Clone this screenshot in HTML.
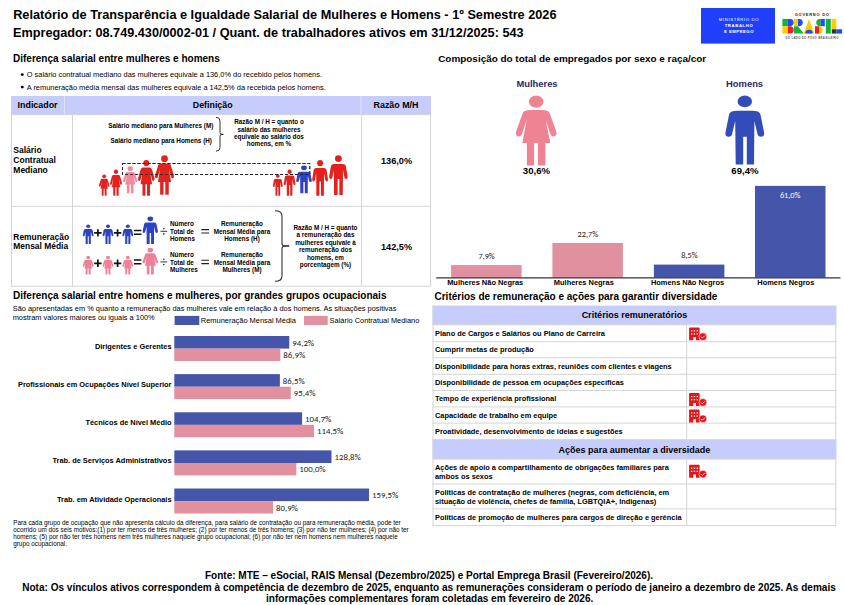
<!DOCTYPE html>
<html lang="pt-BR"><head><meta charset="utf-8"><title>Relatório de Transparência e Igualdade Salarial</title>
<style>html,body{margin:0;padding:0;background:#fff;}body{width:844px;height:605px;overflow:hidden;}svg{display:block;}text{white-space:pre;}</style>
</head><body>
<svg width="844" height="605" viewBox="0 0 844 605" font-family="'Liberation Sans', Arial, sans-serif">
<text x="13.2" y="19" font-size="12.73" font-weight="bold" font-family="'Liberation Sans', Arial, sans-serif">Relatório de Transparência e Igualdade Salarial de Mulheres e Homens - 1º Semestre 2026</text>
<text x="13" y="36.6" font-size="12.7" font-weight="bold" font-family="'Liberation Sans', Arial, sans-serif">Empregador: 08.749.430/0002-01 / Quant. de trabalhadores ativos em 31/12/2025: 543</text>
<rect x="701" y="8" width="74" height="35.6" fill="#1f3ffb"/>
<text x="739" y="21.4" font-size="4.3" text-anchor="middle" fill="#fff" font-family="'Liberation Sans', Arial, sans-serif" letter-spacing="0.6">MINISTÉRIO DO</text>
<text x="739" y="27.1" font-size="4.25" font-weight="bold" text-anchor="middle" fill="#fff" font-family="'Liberation Sans', Arial, sans-serif" letter-spacing="0.6">TRABALHO</text>
<text x="739" y="32.9" font-size="4.25" font-weight="bold" text-anchor="middle" fill="#fff" font-family="'Liberation Sans', Arial, sans-serif" letter-spacing="0.45">E EMPREGO</text>
<text x="812.2" y="15.8" font-size="4.0" font-weight="bold" text-anchor="middle" fill="#222" font-family="'Liberation Sans', Arial, sans-serif" letter-spacing="0.75">GOVERNO DO</text>
<text x="812.1" y="39.1" font-size="2.75" font-weight="bold" text-anchor="middle" fill="#555" font-family="'Liberation Sans', Arial, sans-serif" letter-spacing="0.35">DO LADO DO POVO BRASILEIRO</text>
<g>
<rect x="782.4" y="18.9" width="5.5" height="7.350000000000001" fill="#16b33c"/>
<path d="M787.9,18.9 h2.5 a3.7,3.7 0 0 1 0,7.350000000000001 h-2.5z" fill="#1f4cff"/>
<rect x="782.4" y="26.25" width="5.5" height="7.350000000000001" fill="#ffcc00"/>
<path d="M787.9,26.25 h2.5 a3.7,3.7 0 0 1 0,7.350000000000001 h-2.5z" fill="#ee1c25"/>
<rect x="794" y="18.9" width="4" height="7.350000000000001" fill="#ffcc00"/>
<path d="M798,18.9 h1.5 a3.7,3.7 0 0 1 0,7.350000000000001 h-1.5z" fill="#1f4cff"/>
<path d="M794,26.25 h4 l5.8,7.350000000000001 h-9.8z" fill="#16b33c"/>
<path d="M809,18.9 l5.3,14.700000000000003 h-10.6z" fill="#ffcc00"/>
<path d="M805.2,33.6 a3.8,3.8 0 0 1 7.6,0z" fill="#1f4cff"/>
<path d="M819.5,18.9 a3.7,3.7 0 0 0 0,7.350000000000001 h1.3 v-7.350000000000001z" fill="#16b33c"/>
<rect x="820.8" y="18.9" width="4" height="7.350000000000001" fill="#1f4cff"/>
<path d="M815,26.25 h4.5 v7.350000000000001 h-4.5z" fill="#ee1c25"/>
<path d="M819.5,26.25 a3.7,3.7 0 0 1 0,7.350000000000001z" fill="#ffcc00"/>
<rect x="825.8" y="18.9" width="5" height="14.700000000000003" fill="#16b33c"/>
<rect x="831.8" y="18.9" width="4.5" height="10.350000000000001" fill="#ffcc00"/>
<rect x="831.8" y="29.25" width="4.5" height="4.350000000000001" fill="#333"/>
<rect x="836.3" y="29.25" width="5.8" height="4.350000000000001" fill="#1f4cff"/>
</g>
<text x="13" y="62" font-size="10" font-weight="bold" font-family="'Liberation Sans', Arial, sans-serif">Diferença salarial entre mulheres e homens</text>
<circle cx="22.3" cy="74.6" r="1.45"/><circle cx="22.3" cy="87.1" r="1.45"/>
<text x="26.8" y="77.1" font-size="7.42" font-family="'Liberation Sans', Arial, sans-serif">O salário contratual mediano das mulheres equivale a 136,0% do recebido pelos homens.</text>
<text x="26.8" y="89.6" font-size="7.42" font-family="'Liberation Sans', Arial, sans-serif">A remuneração média mensal das mulheres equivale a 142,5% da recebida pelos homens.</text>
<rect x="11" y="96" width="420" height="18.7" fill="#c6cdfd"/>
<path d="M64.5,96V114.7M361,96V114.7" stroke="#e6e6f6" stroke-width="0.8" fill="none"/>
<path d="M11,114.7H431M11,206.3H431M11,286.2H431M11.5,114.7V286.2M430.5,114.7V286.2M72.5,114.7V286.2M361.6,114.7V286.2" stroke="#d4d4d4" stroke-width="1" fill="none"/>
<text x="17.6" y="108.3" font-size="8.9" font-weight="bold" font-family="'Liberation Sans', Arial, sans-serif">Indicador</text>
<text x="212.7" y="108.3" font-size="8.9" font-weight="bold" text-anchor="middle" font-family="'Liberation Sans', Arial, sans-serif">Definição</text>
<text x="396" y="108.3" font-size="8.9" font-weight="bold" text-anchor="middle" font-family="'Liberation Sans', Arial, sans-serif">Razão M/H</text>
<text x="13.3" y="153.4" font-size="8.5" font-weight="bold" font-family="'Liberation Sans', Arial, sans-serif">Salário</text>
<text x="13.3" y="163.2" font-size="8.5" font-weight="bold" font-family="'Liberation Sans', Arial, sans-serif">Contratual</text>
<text x="13.3" y="173.0" font-size="8.5" font-weight="bold" font-family="'Liberation Sans', Arial, sans-serif">Mediano</text>
<text x="396.5" y="164.1" font-size="9.2" font-weight="bold" text-anchor="middle" font-family="'Liberation Sans', Arial, sans-serif">136,0%</text>
<text x="13.3" y="239.5" font-size="8.45" font-weight="bold" font-family="'Liberation Sans', Arial, sans-serif">Remuneração</text>
<text x="13.3" y="248.9" font-size="8.45" font-weight="bold" font-family="'Liberation Sans', Arial, sans-serif">Mensal Média</text>
<text x="396.5" y="249.5" font-size="9.2" font-weight="bold" text-anchor="middle" font-family="'Liberation Sans', Arial, sans-serif">142,5%</text>
<text x="160.8" y="127.8" font-size="6.35" font-weight="bold" text-anchor="middle" font-family="'Liberation Sans', Arial, sans-serif">Salário mediano para Mulheres (M)</text>
<text x="161.2" y="142.9" font-size="6.35" font-weight="bold" text-anchor="middle" font-family="'Liberation Sans', Arial, sans-serif">Salário mediano para Homens (H)</text>
<text x="269" y="124.4" font-size="6.35" font-weight="bold" text-anchor="middle" font-family="'Liberation Sans', Arial, sans-serif">Razão M / H = quanto o</text>
<text x="269" y="131.75" font-size="6.35" font-weight="bold" text-anchor="middle" font-family="'Liberation Sans', Arial, sans-serif">salário das mulheres</text>
<text x="269" y="139.1" font-size="6.35" font-weight="bold" text-anchor="middle" font-family="'Liberation Sans', Arial, sans-serif">equivale ao salário dos</text>
<text x="269" y="146.45" font-size="6.35" font-weight="bold" text-anchor="middle" font-family="'Liberation Sans', Arial, sans-serif">homens, em %</text>
<path d="M216,117.3 Q220,117.3 220,121 L220,132.4 Q220,134.4 221.8,134.4 M221.8,134.4 Q220,134.4 220,136.4 L220,147.5 Q220,151.2 216,151.2" stroke="#333" stroke-width="1" fill="none"/><path d="M221,134.4 H223.4" stroke="#222" stroke-width="1.3"/>
<path d="M275,210.8 Q282,210.8 282,216 L282,243.2 Q282,246 284.8,246 M284.8,246 Q282,246 282,248.8 L282,276 Q282,281.3 275,281.3" stroke="#333" stroke-width="1.1" fill="none"/><path d="M284,246 H289.2" stroke="#222" stroke-width="1.5"/>
<rect x="122.5" y="163.5" width="187.3" height="11" fill="none" stroke="#222" stroke-width="0.9" stroke-dasharray="3,2"/>
<g transform="translate(104.2,174.4) scale(0.2650,0.3043)" fill="#e5211d"><ellipse cx="0" cy="6.1" rx="7.2" ry="6.1"/><path d="M-5,14.6 L5,14.6 C10.5,14.6 12.6,15.6 13.8,19 L19.8,36 Q21,40.3 17.6,40.9 Q14.8,41.3 14,38.6 L9.4,24.5 L13.9,47.5 L-13.7,47.5 L-9.4,24.5 L-14,38.6 Q-14.8,41.3 -17.6,40.9 Q-21,40.3 -19.8,36 L-13.8,19 C-12.6,15.6 -10.5,14.6 -5,14.6Z"/><rect x="-9.2" y="46" width="7.1" height="24"/><rect x="1.7" y="46" width="7.3" height="24"/></g>
<g transform="translate(116,169.4) scale(0.3000,0.3757)" fill="#e5211d"><ellipse cx="0" cy="6.1" rx="7.2" ry="6.1"/><path d="M-5,14.6 L5,14.6 C10.5,14.6 12.6,15.6 13.8,19 L19.8,36 Q21,40.3 17.6,40.9 Q14.8,41.3 14,38.6 L9.4,24.5 L13.9,47.5 L-13.7,47.5 L-9.4,24.5 L-14,38.6 Q-14.8,41.3 -17.6,40.9 Q-21,40.3 -19.8,36 L-13.8,19 C-12.6,15.6 -10.5,14.6 -5,14.6Z"/><rect x="-9.2" y="46" width="7.1" height="24"/><rect x="1.7" y="46" width="7.3" height="24"/></g>
<g transform="translate(130.2,166.3) scale(0.3600,0.3857)" fill="#ef8a9f"><ellipse cx="0" cy="6.1" rx="7.2" ry="6.1"/><path d="M-5,14.6 L5,14.6 C10.5,14.6 12.6,15.6 13.8,19 L19.8,36 Q21,40.3 17.6,40.9 Q14.8,41.3 14,38.6 L9.4,24.5 L13.9,47.5 L-13.7,47.5 L-9.4,24.5 L-14,38.6 Q-14.8,41.3 -17.6,40.9 Q-21,40.3 -19.8,36 L-13.8,19 C-12.6,15.6 -10.5,14.6 -5,14.6Z"/><rect x="-9.2" y="46" width="7.1" height="24"/><rect x="1.7" y="46" width="7.3" height="24"/></g>
<g transform="translate(146.3,160) scale(0.4150,0.5100)" fill="#e5211d"><ellipse cx="0" cy="6.1" rx="7.2" ry="6.1"/><path d="M-5,14.6 L5,14.6 C10.5,14.6 12.6,15.6 13.8,19 L19.8,36 Q21,40.3 17.6,40.9 Q14.8,41.3 14,38.6 L9.4,24.5 L13.9,47.5 L-13.7,47.5 L-9.4,24.5 L-14,38.6 Q-14.8,41.3 -17.6,40.9 Q-21,40.3 -19.8,36 L-13.8,19 C-12.6,15.6 -10.5,14.6 -5,14.6Z"/><rect x="-9.2" y="46" width="7.1" height="24"/><rect x="1.7" y="46" width="7.3" height="24"/></g>
<g transform="translate(164.5,155.2) scale(0.4750,0.5643)" fill="#e5211d"><ellipse cx="0" cy="6.1" rx="7.2" ry="6.1"/><path d="M-5,14.6 L5,14.6 C10.5,14.6 12.6,15.6 13.8,19 L19.8,36 Q21,40.3 17.6,40.9 Q14.8,41.3 14,38.6 L9.4,24.5 L13.9,47.5 L-13.7,47.5 L-9.4,24.5 L-14,38.6 Q-14.8,41.3 -17.6,40.9 Q-21,40.3 -19.8,36 L-13.8,19 C-12.6,15.6 -10.5,14.6 -5,14.6Z"/><rect x="-9.2" y="46" width="7.1" height="24"/><rect x="1.7" y="46" width="7.3" height="24"/></g>
<g transform="translate(277.8,174.1) scale(0.2526,0.3126)" fill="#e5211d"><ellipse cx="0" cy="5.9" rx="7.2" ry="5.9"/><path d="M-6,15.3 L6,15.3 C12.5,15.3 15,16 15.9,20 L19.3,37 Q19.8,41.3 16.2,41.3 Q13.2,41.3 12.7,38.6 L9.6,25.5 L9.2,69.1 L2,69.1 L2,41.3 L-1.6,41.3 L-1.6,69.1 L-9.1,69.1 L-9.6,25.5 L-12.7,38.6 Q-13.2,41.3 -16.2,41.3 Q-19.8,41.3 -19.3,37 L-15.9,20 C-15,16 -12.5,15.3 -6,15.3Z"/></g>
<g transform="translate(289.6,169.6) scale(0.3010,0.3777)" fill="#e5211d"><ellipse cx="0" cy="5.9" rx="7.2" ry="5.9"/><path d="M-6,15.3 L6,15.3 C12.5,15.3 15,16 15.9,20 L19.3,37 Q19.8,41.3 16.2,41.3 Q13.2,41.3 12.7,38.6 L9.6,25.5 L9.2,69.1 L2,69.1 L2,41.3 L-1.6,41.3 L-1.6,69.1 L-9.1,69.1 L-9.6,25.5 L-12.7,38.6 Q-13.2,41.3 -16.2,41.3 Q-19.8,41.3 -19.3,37 L-15.9,20 C-15,16 -12.5,15.3 -6,15.3Z"/></g>
<g transform="translate(304,165.5) scale(0.4031,0.4023)" fill="#2c40c8"><ellipse cx="0" cy="5.9" rx="7.2" ry="5.9"/><path d="M-6,15.3 L6,15.3 C12.5,15.3 15,16 15.9,20 L19.3,37 Q19.8,41.3 16.2,41.3 Q13.2,41.3 12.7,38.6 L9.6,25.5 L9.2,69.1 L2,69.1 L2,41.3 L-1.6,41.3 L-1.6,69.1 L-9.1,69.1 L-9.6,25.5 L-12.7,38.6 Q-13.2,41.3 -16.2,41.3 Q-19.8,41.3 -19.3,37 L-15.9,20 C-15,16 -12.5,15.3 -6,15.3Z"/></g>
<g transform="translate(320.1,160.1) scale(0.4082,0.5152)" fill="#e5211d"><ellipse cx="0" cy="5.9" rx="7.2" ry="5.9"/><path d="M-6,15.3 L6,15.3 C12.5,15.3 15,16 15.9,20 L19.3,37 Q19.8,41.3 16.2,41.3 Q13.2,41.3 12.7,38.6 L9.6,25.5 L9.2,69.1 L2,69.1 L2,41.3 L-1.6,41.3 L-1.6,69.1 L-9.1,69.1 L-9.6,25.5 L-12.7,38.6 Q-13.2,41.3 -16.2,41.3 Q-19.8,41.3 -19.3,37 L-15.9,20 C-15,16 -12.5,15.3 -6,15.3Z"/></g>
<g transform="translate(338.4,155.2) scale(0.4770,0.5760)" fill="#e5211d"><ellipse cx="0" cy="5.9" rx="7.2" ry="5.9"/><path d="M-6,15.3 L6,15.3 C12.5,15.3 15,16 15.9,20 L19.3,37 Q19.8,41.3 16.2,41.3 Q13.2,41.3 12.7,38.6 L9.6,25.5 L9.2,69.1 L2,69.1 L2,41.3 L-1.6,41.3 L-1.6,69.1 L-9.1,69.1 L-9.6,25.5 L-12.7,38.6 Q-13.2,41.3 -16.2,41.3 Q-19.8,41.3 -19.3,37 L-15.9,20 C-15,16 -12.5,15.3 -6,15.3Z"/></g>
<rect x="122.5" y="163.5" width="187.3" height="11" fill="none" stroke="#222" stroke-width="0.9" stroke-dasharray="3,2"/>
<g transform="translate(88.2,224.6) scale(0.2781,0.2822)" fill="#2c40c8"><ellipse cx="0" cy="5.9" rx="7.2" ry="5.9"/><path d="M-6,15.3 L6,15.3 C12.5,15.3 15,16 15.9,20 L19.3,37 Q19.8,41.3 16.2,41.3 Q13.2,41.3 12.7,38.6 L9.6,25.5 L9.2,69.1 L2,69.1 L2,41.3 L-1.6,41.3 L-1.6,69.1 L-9.1,69.1 L-9.6,25.5 L-12.7,38.6 Q-13.2,41.3 -16.2,41.3 Q-19.8,41.3 -19.3,37 L-15.9,20 C-15,16 -12.5,15.3 -6,15.3Z"/></g>
<g transform="translate(88.2,255.8) scale(0.2725,0.2657)" fill="#ef8097"><ellipse cx="0" cy="6.1" rx="7.2" ry="6.1"/><path d="M-5,14.6 L5,14.6 C10.5,14.6 12.6,15.6 13.8,19 L19.8,36 Q21,40.3 17.6,40.9 Q14.8,41.3 14,38.6 L9.4,24.5 L13.9,47.5 L-13.7,47.5 L-9.4,24.5 L-14,38.6 Q-14.8,41.3 -17.6,40.9 Q-21,40.3 -19.8,36 L-13.8,19 C-12.6,15.6 -10.5,14.6 -5,14.6Z"/><rect x="-9.2" y="46" width="7.1" height="24"/><rect x="1.7" y="46" width="7.3" height="24"/></g>
<g transform="translate(108,224.6) scale(0.2781,0.2822)" fill="#2c40c8"><ellipse cx="0" cy="5.9" rx="7.2" ry="5.9"/><path d="M-6,15.3 L6,15.3 C12.5,15.3 15,16 15.9,20 L19.3,37 Q19.8,41.3 16.2,41.3 Q13.2,41.3 12.7,38.6 L9.6,25.5 L9.2,69.1 L2,69.1 L2,41.3 L-1.6,41.3 L-1.6,69.1 L-9.1,69.1 L-9.6,25.5 L-12.7,38.6 Q-13.2,41.3 -16.2,41.3 Q-19.8,41.3 -19.3,37 L-15.9,20 C-15,16 -12.5,15.3 -6,15.3Z"/></g>
<g transform="translate(108,255.8) scale(0.2725,0.2657)" fill="#ef8097"><ellipse cx="0" cy="6.1" rx="7.2" ry="6.1"/><path d="M-5,14.6 L5,14.6 C10.5,14.6 12.6,15.6 13.8,19 L19.8,36 Q21,40.3 17.6,40.9 Q14.8,41.3 14,38.6 L9.4,24.5 L13.9,47.5 L-13.7,47.5 L-9.4,24.5 L-14,38.6 Q-14.8,41.3 -17.6,40.9 Q-21,40.3 -19.8,36 L-13.8,19 C-12.6,15.6 -10.5,14.6 -5,14.6Z"/><rect x="-9.2" y="46" width="7.1" height="24"/><rect x="1.7" y="46" width="7.3" height="24"/></g>
<g transform="translate(127.8,224.6) scale(0.2781,0.2822)" fill="#2c40c8"><ellipse cx="0" cy="5.9" rx="7.2" ry="5.9"/><path d="M-6,15.3 L6,15.3 C12.5,15.3 15,16 15.9,20 L19.3,37 Q19.8,41.3 16.2,41.3 Q13.2,41.3 12.7,38.6 L9.6,25.5 L9.2,69.1 L2,69.1 L2,41.3 L-1.6,41.3 L-1.6,69.1 L-9.1,69.1 L-9.6,25.5 L-12.7,38.6 Q-13.2,41.3 -16.2,41.3 Q-19.8,41.3 -19.3,37 L-15.9,20 C-15,16 -12.5,15.3 -6,15.3Z"/></g>
<g transform="translate(127.8,255.8) scale(0.2725,0.2657)" fill="#ef8097"><ellipse cx="0" cy="6.1" rx="7.2" ry="6.1"/><path d="M-5,14.6 L5,14.6 C10.5,14.6 12.6,15.6 13.8,19 L19.8,36 Q21,40.3 17.6,40.9 Q14.8,41.3 14,38.6 L9.4,24.5 L13.9,47.5 L-13.7,47.5 L-9.4,24.5 L-14,38.6 Q-14.8,41.3 -17.6,40.9 Q-21,40.3 -19.8,36 L-13.8,19 C-12.6,15.6 -10.5,14.6 -5,14.6Z"/><rect x="-9.2" y="46" width="7.1" height="24"/><rect x="1.7" y="46" width="7.3" height="24"/></g>
<g transform="translate(150.3,216.4) scale(0.3954,0.4009)" fill="#2c40c8"><ellipse cx="0" cy="5.9" rx="7.2" ry="5.9"/><path d="M-6,15.3 L6,15.3 C12.5,15.3 15,16 15.9,20 L19.3,37 Q19.8,41.3 16.2,41.3 Q13.2,41.3 12.7,38.6 L9.6,25.5 L9.2,69.1 L2,69.1 L2,41.3 L-1.6,41.3 L-1.6,69.1 L-9.1,69.1 L-9.6,25.5 L-12.7,38.6 Q-13.2,41.3 -16.2,41.3 Q-19.8,41.3 -19.3,37 L-15.9,20 C-15,16 -12.5,15.3 -6,15.3Z"/></g>
<g transform="translate(150.3,247.8) scale(0.3875,0.3800)" fill="#ef8097"><ellipse cx="0" cy="6.1" rx="7.2" ry="6.1"/><path d="M-5,14.6 L5,14.6 C10.5,14.6 12.6,15.6 13.8,19 L19.8,36 Q21,40.3 17.6,40.9 Q14.8,41.3 14,38.6 L9.4,24.5 L13.9,47.5 L-13.7,47.5 L-9.4,24.5 L-14,38.6 Q-14.8,41.3 -17.6,40.9 Q-21,40.3 -19.8,36 L-13.8,19 C-12.6,15.6 -10.5,14.6 -5,14.6Z"/><rect x="-9.2" y="46" width="7.1" height="24"/><rect x="1.7" y="46" width="7.3" height="24"/></g>
<path d="M94.2,232.9H101.60000000000001M97.9,229.20000000000002V236.6" stroke="#111" stroke-width="1.7"/>
<path d="M113.89999999999999,232.9H121.3M117.6,229.20000000000002V236.6" stroke="#111" stroke-width="1.7"/>
<path d="M133.9,230.4H141.4M133.9,234.20000000000002H141.4" stroke="#111" stroke-width="1.5"/>
<path d="M94.2,263.3H101.60000000000001M97.9,259.6V267.0" stroke="#111" stroke-width="1.7"/>
<path d="M113.89999999999999,263.3H121.3M117.6,259.6V267.0" stroke="#111" stroke-width="1.7"/>
<path d="M133.9,259.90000000000003H141.4M133.9,263.7H141.4" stroke="#111" stroke-width="1.5"/>
<path d="M160.5,231.3H167.2" stroke="#222" stroke-width="0.9"/><circle cx="163.85" cy="228.70000000000002" r="0.8" fill="#222"/><circle cx="163.85" cy="233.9" r="0.8" fill="#222"/>
<path d="M201.3,229.60000000000002H209M201.3,233.0H209" stroke="#222" stroke-width="1.1"/>
<path d="M160.5,261.9H167.2" stroke="#222" stroke-width="0.9"/><circle cx="163.85" cy="259.29999999999995" r="0.8" fill="#222"/><circle cx="163.85" cy="264.5" r="0.8" fill="#222"/>
<path d="M201.3,260.2H209M201.3,263.59999999999997H209" stroke="#222" stroke-width="1.1"/>
<text x="170" y="226.1" font-size="6.35" font-weight="bold" font-family="'Liberation Sans', Arial, sans-serif">Número</text>
<text x="170" y="233.6" font-size="6.35" font-weight="bold" font-family="'Liberation Sans', Arial, sans-serif">Total de</text>
<text x="170" y="241.1" font-size="6.35" font-weight="bold" font-family="'Liberation Sans', Arial, sans-serif">Homens</text>
<text x="242" y="226.1" font-size="6.35" font-weight="bold" text-anchor="middle" font-family="'Liberation Sans', Arial, sans-serif">Remuneração</text>
<text x="242" y="233.6" font-size="6.35" font-weight="bold" text-anchor="middle" font-family="'Liberation Sans', Arial, sans-serif">Mensal Média para</text>
<text x="242" y="241.1" font-size="6.35" font-weight="bold" text-anchor="middle" font-family="'Liberation Sans', Arial, sans-serif">Homens (H)</text>
<text x="170" y="257.2" font-size="6.35" font-weight="bold" font-family="'Liberation Sans', Arial, sans-serif">Número</text>
<text x="170" y="264.5" font-size="6.35" font-weight="bold" font-family="'Liberation Sans', Arial, sans-serif">Total de</text>
<text x="170" y="271.8" font-size="6.35" font-weight="bold" font-family="'Liberation Sans', Arial, sans-serif">Mulheres</text>
<text x="242" y="257.2" font-size="6.35" font-weight="bold" text-anchor="middle" font-family="'Liberation Sans', Arial, sans-serif">Remuneração</text>
<text x="242" y="264.5" font-size="6.35" font-weight="bold" text-anchor="middle" font-family="'Liberation Sans', Arial, sans-serif">Mensal Média para</text>
<text x="242" y="271.8" font-size="6.35" font-weight="bold" text-anchor="middle" font-family="'Liberation Sans', Arial, sans-serif">Mulheres (M)</text>
<text x="325.5" y="230.0" font-size="6.35" font-weight="bold" text-anchor="middle" font-family="'Liberation Sans', Arial, sans-serif">Razão M / H = quanto</text>
<text x="325.5" y="237.45" font-size="6.35" font-weight="bold" text-anchor="middle" font-family="'Liberation Sans', Arial, sans-serif">a remuneração das</text>
<text x="325.5" y="244.9" font-size="6.35" font-weight="bold" text-anchor="middle" font-family="'Liberation Sans', Arial, sans-serif">mulheres equivale à</text>
<text x="325.5" y="252.35" font-size="6.35" font-weight="bold" text-anchor="middle" font-family="'Liberation Sans', Arial, sans-serif">remuneração dos</text>
<text x="325.5" y="259.8" font-size="6.35" font-weight="bold" text-anchor="middle" font-family="'Liberation Sans', Arial, sans-serif">homens, em</text>
<text x="325.5" y="267.25" font-size="6.35" font-weight="bold" text-anchor="middle" font-family="'Liberation Sans', Arial, sans-serif">porcentagem (%)</text>
<text x="13" y="299.2" font-size="10" font-weight="bold" font-family="'Liberation Sans', Arial, sans-serif">Diferença salarial entre homens e mulheres, por grandes grupos ocupacionais</text>
<text x="12.7" y="310.5" font-size="7.42" font-family="'Liberation Sans', Arial, sans-serif">São apresentadas em % quanto a remuneração das mulheres vale em relação à dos homens. As situações positivas</text>
<text x="12.7" y="319.5" font-size="7.42" font-family="'Liberation Sans', Arial, sans-serif">mostram valores maiores ou iguais a 100%</text>
<rect x="174.6" y="315.9" width="24.7" height="9.1" fill="#4555aa"/>
<text x="200.8" y="323" font-size="7.45" font-family="'Liberation Sans', Arial, sans-serif">Remuneração Mensal Média</text>
<rect x="304" y="315.9" width="23.7" height="9.1" fill="#e0909f"/>
<text x="329.6" y="323" font-size="7.42" font-family="'Liberation Sans', Arial, sans-serif">Salário Contratual Mediano</text>
<rect x="174.3" y="336.00" width="114.97" height="12.6" fill="#4555aa"/>
<rect x="174.3" y="348.60" width="106.06" height="12.4" fill="#e0909f"/>
<text x="171.5" y="349.00" font-size="7.42" font-weight="bold" text-anchor="end" font-family="'Liberation Sans', Arial, sans-serif">Dirigentes e Gerentes</text>
<text x="292.27" y="345.50" font-size="8.8" fill="#222" font-family="Carlito, 'Liberation Sans', sans-serif">94,2%</text>
<text x="283.36" y="358.00" font-size="8.8" fill="#222" font-family="Carlito, 'Liberation Sans', sans-serif">86,9%</text>
<rect x="174.3" y="374.13" width="105.57" height="12.6" fill="#4555aa"/>
<rect x="174.3" y="386.73" width="116.44" height="12.4" fill="#e0909f"/>
<text x="171.5" y="387.13" font-size="7.42" font-weight="bold" text-anchor="end" font-family="'Liberation Sans', Arial, sans-serif">Profissionais em Ocupações Nível Superior</text>
<text x="282.87" y="383.63" font-size="8.8" fill="#222" font-family="Carlito, 'Liberation Sans', sans-serif">86,5%</text>
<text x="293.74" y="396.13" font-size="8.8" fill="#222" font-family="Carlito, 'Liberation Sans', sans-serif">95,4%</text>
<rect x="174.3" y="412.26" width="127.79" height="12.6" fill="#4555aa"/>
<rect x="174.3" y="424.86" width="139.75" height="12.4" fill="#e0909f"/>
<text x="171.5" y="425.26" font-size="7.42" font-weight="bold" text-anchor="end" font-family="'Liberation Sans', Arial, sans-serif">Técnicos de Nível Médio</text>
<text x="305.09" y="421.76" font-size="8.8" fill="#222" font-family="Carlito, 'Liberation Sans', sans-serif">104,7%</text>
<text x="317.05" y="434.26" font-size="8.8" fill="#222" font-family="Carlito, 'Liberation Sans', sans-serif">114,5%</text>
<rect x="174.3" y="450.39" width="157.20" height="12.6" fill="#4555aa"/>
<rect x="174.3" y="462.99" width="122.05" height="12.4" fill="#e0909f"/>
<text x="171.5" y="463.39" font-size="7.42" font-weight="bold" text-anchor="end" font-family="'Liberation Sans', Arial, sans-serif">Trab. de Serviços Administrativos</text>
<text x="334.50" y="459.89" font-size="8.8" fill="#222" font-family="Carlito, 'Liberation Sans', sans-serif">128,8%</text>
<text x="299.35" y="472.39" font-size="8.8" fill="#222" font-family="Carlito, 'Liberation Sans', sans-serif">100,0%</text>
<rect x="174.3" y="488.52" width="194.67" height="12.6" fill="#4555aa"/>
<rect x="174.3" y="501.12" width="98.74" height="12.4" fill="#e0909f"/>
<text x="171.5" y="501.52" font-size="7.42" font-weight="bold" text-anchor="end" font-family="'Liberation Sans', Arial, sans-serif">Trab. em Atividade Operacionais</text>
<text x="371.97" y="498.02" font-size="8.8" fill="#222" font-family="Carlito, 'Liberation Sans', sans-serif">159,5%</text>
<text x="276.04" y="510.52" font-size="8.8" fill="#222" font-family="Carlito, 'Liberation Sans', sans-serif">80,9%</text>
<text x="13.2" y="524.6" font-size="6.36" font-family="'Liberation Sans', Arial, sans-serif">Para cada grupo de ocupação que não apresenta cálculo da diferença, para salário de contratação ou para remuneração média, pode ter</text>
<text x="13.2" y="531.65" font-size="6.36" font-family="'Liberation Sans', Arial, sans-serif">ocorrido um dos seis motivos:(1) por ter menos de três mulheres; (2) por ter menos de três homens; (3) por não ter mulheres; (4) por não ter</text>
<text x="13.2" y="538.7" font-size="6.36" font-family="'Liberation Sans', Arial, sans-serif">homens; (5) por não ter três homens nem três mulheres naquele grupo ocupacional; (6) por não ter nem homens nem mulheres naquele</text>
<text x="13.2" y="545.75" font-size="6.36" font-family="'Liberation Sans', Arial, sans-serif">grupo ocupacional.</text>
<text x="438.2" y="62.1" font-size="9.93" font-weight="bold" font-family="'Liberation Sans', Arial, sans-serif">Composição do total de empregados por sexo e raça/cor</text>
<text x="537" y="87.2" font-size="9.4" font-weight="bold" text-anchor="middle" fill="#2b2966" font-family="'Liberation Sans', Arial, sans-serif">Mulheres</text>
<text x="744.6" y="87.2" font-size="9.4" font-weight="bold" text-anchor="middle" fill="#2b2966" font-family="'Liberation Sans', Arial, sans-serif">Homens</text>
<g transform="translate(536.2,95.5) scale(1.0125,1.0000)" fill="#ee8393"><ellipse cx="0" cy="6.1" rx="7.2" ry="6.1"/><path d="M-5,14.6 L5,14.6 C10.5,14.6 12.6,15.6 13.8,19 L19.8,36 Q21,40.3 17.6,40.9 Q14.8,41.3 14,38.6 L9.4,24.5 L13.9,47.5 L-13.7,47.5 L-9.4,24.5 L-14,38.6 Q-14.8,41.3 -17.6,40.9 Q-21,40.3 -19.8,36 L-13.8,19 C-12.6,15.6 -10.5,14.6 -5,14.6Z"/><rect x="-9.2" y="46" width="7.1" height="24"/><rect x="1.7" y="46" width="7.3" height="24"/></g>
<g transform="translate(744.8,95.5) scale(1.0000,1.0000)" fill="#324cba"><ellipse cx="0" cy="5.9" rx="7.2" ry="5.9"/><path d="M-6,15.3 L6,15.3 C12.5,15.3 15,16 15.9,20 L19.3,37 Q19.8,41.3 16.2,41.3 Q13.2,41.3 12.7,38.6 L9.6,25.5 L9.2,69.1 L2,69.1 L2,41.3 L-1.6,41.3 L-1.6,69.1 L-9.1,69.1 L-9.6,25.5 L-12.7,38.6 Q-13.2,41.3 -16.2,41.3 Q-19.8,41.3 -19.3,37 L-15.9,20 C-15,16 -12.5,15.3 -6,15.3Z"/></g>
<text x="536.4" y="173.6" font-size="9.6" font-weight="bold" text-anchor="middle" font-family="'Liberation Sans', Arial, sans-serif">30,6%</text>
<text x="744.9" y="173.6" font-size="9.6" font-weight="bold" text-anchor="middle" font-family="'Liberation Sans', Arial, sans-serif">69,4%</text>
<rect x="451.1" y="265.1" width="70.5" height="12.5" fill="#e0909f"/>
<rect x="552.4" y="243" width="70.5" height="34.6" fill="#e0909f"/>
<rect x="653.9" y="264.6" width="70.5" height="13.0" fill="#4555aa"/>
<rect x="755.0" y="185.9" width="70.5" height="91.7" fill="#4555aa"/>
<text x="486.6" y="258.8" font-size="8.3" text-anchor="middle" fill="#222" font-family="Carlito, 'Liberation Sans', sans-serif">7,9%</text>
<text x="587.9" y="236.7" font-size="8.3" text-anchor="middle" fill="#222" font-family="Carlito, 'Liberation Sans', sans-serif">22,7%</text>
<text x="689.4" y="258.3" font-size="8.3" text-anchor="middle" fill="#222" font-family="Carlito, 'Liberation Sans', sans-serif">8,5%</text>
<text x="790.2" y="198.3" font-size="8.3" text-anchor="middle" fill="#fff" font-family="Carlito, 'Liberation Sans', sans-serif">61,0%</text>
<path d="M436.2,277.9H840.5" stroke="#333" stroke-width="1.2"/>
<text x="485.2" y="285.1" font-size="7.45" font-weight="bold" text-anchor="middle" font-family="'Liberation Sans', Arial, sans-serif">Mulheres Não Negras</text>
<text x="583.8" y="285.1" font-size="7.45" font-weight="bold" text-anchor="middle" font-family="'Liberation Sans', Arial, sans-serif">Mulheres Negras</text>
<text x="687.5" y="285.1" font-size="7.45" font-weight="bold" text-anchor="middle" font-family="'Liberation Sans', Arial, sans-serif">Homens Não Negros</text>
<text x="785.8" y="285.1" font-size="7.45" font-weight="bold" text-anchor="middle" font-family="'Liberation Sans', Arial, sans-serif">Homens Negros</text>
<text x="434.5" y="299.9" font-size="10" font-weight="bold" font-family="'Liberation Sans', Arial, sans-serif">Critérios de remuneração e ações para garantir diversidade</text>
<rect x="432.5" y="305.6" width="403.79999999999995" height="19.2" fill="#c6cdfd"/>
<rect x="432.5" y="439.7" width="403.79999999999995" height="19.4" fill="#c6cdfd"/>
<path d="M432.5,324.8H836.3M432.5,341.7H836.3M432.5,357.8H836.3M432.5,374.3H836.3M432.5,390.5H836.3M432.5,406.9H836.3M432.5,423.1H836.3M432.5,439.7H836.3M432.5,459.1H836.3M432.5,484H836.3M432.5,508.9H836.3M432.5,525.6H836.3M433.0,305.6V525.6M835.8,305.6V525.6M686.7,324.8V439.7M686.7,459.1V525.6" stroke="#d4d4d4" stroke-width="1" fill="none"/>
<text x="634.4" y="318.1" font-size="9" font-weight="bold" text-anchor="middle" font-family="'Liberation Sans', Arial, sans-serif">Critérios remuneratórios</text>
<text x="634.4" y="452.9" font-size="9" font-weight="bold" text-anchor="middle" font-family="'Liberation Sans', Arial, sans-serif">Ações para aumentar a diversidade</text>
<text x="435" y="335.85" font-size="7.42" font-weight="bold" font-family="'Liberation Sans', Arial, sans-serif">Plano de Cargos e Salários ou Plano de Carreira</text>
<text x="435" y="352.35" font-size="7.42" font-weight="bold" font-family="'Liberation Sans', Arial, sans-serif">Cumprir metas de produção</text>
<text x="435" y="368.65" font-size="7.42" font-weight="bold" font-family="'Liberation Sans', Arial, sans-serif">Disponibilidade para horas extras, reuniões com clientes e viagens</text>
<text x="435" y="385.00" font-size="7.42" font-weight="bold" font-family="'Liberation Sans', Arial, sans-serif">Disponibilidade de pessoa em ocupações específicas</text>
<text x="435" y="401.30" font-size="7.42" font-weight="bold" font-family="'Liberation Sans', Arial, sans-serif">Tempo de experiência profissional</text>
<text x="435" y="417.60" font-size="7.42" font-weight="bold" font-family="'Liberation Sans', Arial, sans-serif">Capacidade de trabalho em equipe</text>
<text x="435" y="434.00" font-size="7.42" font-weight="bold" font-family="'Liberation Sans', Arial, sans-serif">Proatividade, desenvolvimento de ideias e sugestões</text>
<text x="435" y="469.75" font-size="7.42" font-weight="bold" font-family="'Liberation Sans', Arial, sans-serif">Ações de apoio a compartilhamento de obrigações familiares para</text>
<text x="435" y="478.65" font-size="7.42" font-weight="bold" font-family="'Liberation Sans', Arial, sans-serif">ambos os sexos</text>
<text x="435" y="494.65" font-size="7.42" font-weight="bold" font-family="'Liberation Sans', Arial, sans-serif">Politicas de contratação de mulheres (negras, com deficiência, em</text>
<text x="435" y="503.55" font-size="7.42" font-weight="bold" font-family="'Liberation Sans', Arial, sans-serif">situação de violência, chefes de familia, LGBTQIA+, Indigenas)</text>
<text x="435" y="519.85" font-size="7.42" font-weight="bold" font-family="'Liberation Sans', Arial, sans-serif">Politicas de promoção de mulheres para cargos de direção e gerência</text>
<g transform="translate(689.1,327.40000000000003)"><path d="M0.8,0 H9.7 Q10.5,0 10.5,0.8 V12.9 H6.9 V9.8 H4.2 V12.9 H0 V0.8 Q0,0 0.8,0Z" fill="#e3161e"/><rect x="1.9" y="2.8" width="1.3" height="1.3" fill="#fff"/><rect x="4.7" y="2.8" width="1.3" height="1.3" fill="#fff"/><rect x="7.5" y="2.8" width="1.3" height="1.3" fill="#fff"/><rect x="1.9" y="5.9" width="1.3" height="1.3" fill="#fff"/><rect x="4.7" y="5.9" width="1.3" height="1.3" fill="#fff"/><rect x="7.5" y="5.9" width="1.3" height="1.3" fill="#fff"/><circle cx="13.8" cy="9.3" r="3.9" fill="#e3161e" stroke="#fff" stroke-width="0.6"/><path d="M12,9.4 L13.3,10.7 L15.7,8.2" stroke="#fff" stroke-width="0.9" fill="none"/></g>
<g transform="translate(689.1,393.1)"><path d="M0.8,0 H9.7 Q10.5,0 10.5,0.8 V12.9 H6.9 V9.8 H4.2 V12.9 H0 V0.8 Q0,0 0.8,0Z" fill="#e3161e"/><rect x="1.9" y="2.8" width="1.3" height="1.3" fill="#fff"/><rect x="4.7" y="2.8" width="1.3" height="1.3" fill="#fff"/><rect x="7.5" y="2.8" width="1.3" height="1.3" fill="#fff"/><rect x="1.9" y="5.9" width="1.3" height="1.3" fill="#fff"/><rect x="4.7" y="5.9" width="1.3" height="1.3" fill="#fff"/><rect x="7.5" y="5.9" width="1.3" height="1.3" fill="#fff"/><circle cx="13.8" cy="9.3" r="3.9" fill="#e3161e" stroke="#fff" stroke-width="0.6"/><path d="M12,9.4 L13.3,10.7 L15.7,8.2" stroke="#fff" stroke-width="0.9" fill="none"/></g>
<g transform="translate(689.1,409.5)"><path d="M0.8,0 H9.7 Q10.5,0 10.5,0.8 V12.9 H6.9 V9.8 H4.2 V12.9 H0 V0.8 Q0,0 0.8,0Z" fill="#e3161e"/><rect x="1.9" y="2.8" width="1.3" height="1.3" fill="#fff"/><rect x="4.7" y="2.8" width="1.3" height="1.3" fill="#fff"/><rect x="7.5" y="2.8" width="1.3" height="1.3" fill="#fff"/><rect x="1.9" y="5.9" width="1.3" height="1.3" fill="#fff"/><rect x="4.7" y="5.9" width="1.3" height="1.3" fill="#fff"/><rect x="7.5" y="5.9" width="1.3" height="1.3" fill="#fff"/><circle cx="13.8" cy="9.3" r="3.9" fill="#e3161e" stroke="#fff" stroke-width="0.6"/><path d="M12,9.4 L13.3,10.7 L15.7,8.2" stroke="#fff" stroke-width="0.9" fill="none"/></g>
<g transform="translate(689.1,464.8)"><path d="M0.8,0 H9.7 Q10.5,0 10.5,0.8 V12.9 H6.9 V9.8 H4.2 V12.9 H0 V0.8 Q0,0 0.8,0Z" fill="#e3161e"/><rect x="1.9" y="2.8" width="1.3" height="1.3" fill="#fff"/><rect x="4.7" y="2.8" width="1.3" height="1.3" fill="#fff"/><rect x="7.5" y="2.8" width="1.3" height="1.3" fill="#fff"/><rect x="1.9" y="5.9" width="1.3" height="1.3" fill="#fff"/><rect x="4.7" y="5.9" width="1.3" height="1.3" fill="#fff"/><rect x="7.5" y="5.9" width="1.3" height="1.3" fill="#fff"/><circle cx="13.8" cy="9.3" r="3.9" fill="#e3161e" stroke="#fff" stroke-width="0.6"/><path d="M12,9.4 L13.3,10.7 L15.7,8.2" stroke="#fff" stroke-width="0.9" fill="none"/></g>
<text x="429" y="578.5" font-size="10.03" font-weight="bold" text-anchor="middle" font-family="'Liberation Sans', Arial, sans-serif">Fonte: MTE – eSocial, RAIS Mensal (Dezembro/2025) e Portal Emprega Brasil (Fevereiro/2026).</text>
<text x="429" y="590.6" font-size="10.04" font-weight="bold" text-anchor="middle" font-family="'Liberation Sans', Arial, sans-serif">Nota: Os vínculos ativos correspondem à competência de dezembro de 2025, enquanto as remunerações consideram o período de janeiro a dezembro de 2025. As demais</text>
<text x="429.7" y="601.6" font-size="10.05" font-weight="bold" text-anchor="middle" font-family="'Liberation Sans', Arial, sans-serif">informações complementares foram coletadas em fevereiro de 2026.</text>
</svg>
</body></html>
